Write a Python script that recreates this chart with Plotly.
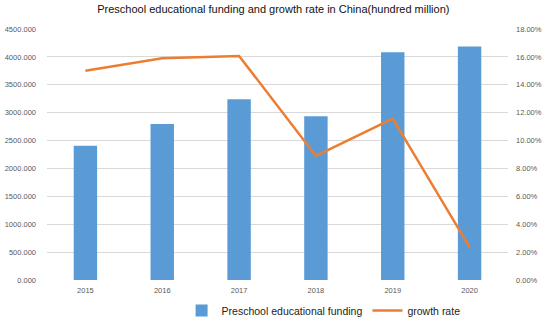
import plotly.graph_objects as go

years = ["2015", "2016", "2017", "2018", "2019", "2020"]
funding = [2405, 2795, 3240, 2935, 4085, 4185]
growth_rate = [15.0, 15.9, 16.07, 8.9, 11.57, 2.35]

font_family = "Liberation Sans, Arial, sans-serif"

fig = go.Figure()
fig.add_trace(go.Bar(
    x=years, y=funding, name="Preschool educational funding",
    marker=dict(color="#5B9BD5", line=dict(width=0)),
    width=0.305, yaxis="y",
))
fig.add_trace(go.Scatter(
    x=years, y=growth_rate, name="growth rate", mode="lines",
    line=dict(color="#ED7D31", width=2.5), yaxis="y2",
))

fig.update_layout(
    width=550, height=321,
    margin=dict(l=47, r=42, t=29, b=41, autoexpand=False),
    paper_bgcolor="white", plot_bgcolor="white",
    font=dict(family=font_family, color="#595959"),
    title=dict(
        text="Preschool educational funding and growth rate in China(hundred million)",
        x=0.497, xanchor="center", y=0.972, yanchor="middle",
        font=dict(size=11, color="#111111", family=font_family),
    ),
    xaxis=dict(
        type="category", showgrid=False, zeroline=False, showline=False,
        tickfont=dict(size=7.5, color="#595959"), ticks="",
        ticklabelstandoff=4, automargin=False,
    ),
    yaxis=dict(
        range=[0, 4500], tick0=0, dtick=500, tickformat=".3f",
        showgrid=True, gridcolor="#D9D9D9", gridwidth=1,
        zeroline=False, showline=False,
        tickfont=dict(size=7.5, color="#595959"), ticks="",
        ticklabelstandoff=10, automargin=False,
    ),
    yaxis2=dict(
        range=[0, 18], tick0=0, dtick=2, tickformat=".2f", ticksuffix="%",
        overlaying="y", side="right", showgrid=False, zeroline=False,
        showline=False, tickfont=dict(size=7.5, color="#595959"), ticks="",
        ticklabelstandoff=7, automargin=False,
    ),
    showlegend=True,
    legend=dict(
        orientation="h", x=0.6, xanchor="center", y=-0.122, yanchor="middle",
        font=dict(size=10.5, color="#222222", family=font_family),
        bgcolor="rgba(0,0,0,0)", itemwidth=30,
    ),
)

fig.write_html(
    "out.html",
    config={"displayModeBar": False},
    post_script="document.body.style.margin='0';document.body.style.overflow='hidden';",
)
